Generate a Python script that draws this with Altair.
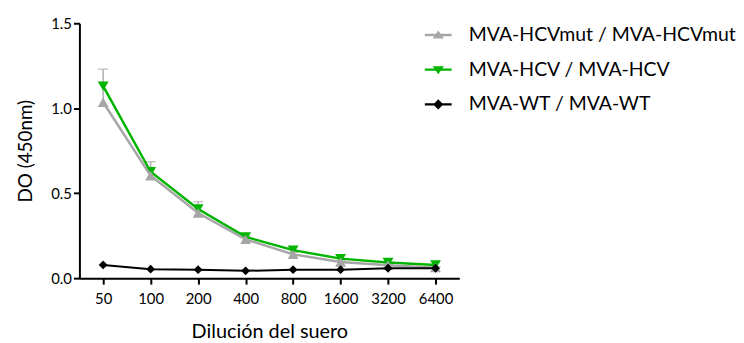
import altair as alt
import pandas as pd

dilutions = ["50", "100", "200", "400", "800", "1600", "3200", "6400"]
series_names = ["MVA-HCVmut / MVA-HCVmut", "MVA-HCV / MVA-HCV", "MVA-WT / MVA-WT"]
hcvmut = [1.035, 0.603, 0.383, 0.228, 0.140, 0.095, 0.076, 0.062]
hcvmut_err = [0.195, 0.082, 0.067, 0.020, 0.012, 0.008, 0.006, 0.005]
hcv = [1.130, 0.626, 0.407, 0.243, 0.165, 0.115, 0.092, 0.078]
wt = [0.078, 0.053, 0.050, 0.043, 0.050, 0.050, 0.058, 0.058]
colors = ["#A6A6A6", "#00B400", "#000000"]
shapes = ["triangle-up", "triangle-down", "diamond"]
legend_shapes = [
    "M-1.8,-0.16H1.8V0.16H-1.8Z M0,-0.6L0.75,0.47H-0.75Z",
    "M-1.8,-0.16H1.8V0.16H-1.8Z M0,0.6L-0.75,-0.47H0.75Z",
    "M-1.8,-0.14H1.8V0.14H-1.8Z M0,-0.68L0.68,0L0,0.68L-0.68,0Z",
]

rows = []
for name, vals in zip(series_names, [hcvmut, hcv, wt]):
    for d, v in zip(dilutions, vals):
        rows.append({"series": name, "dil": d, "val": v})
df = pd.DataFrame(rows)
err_df = pd.DataFrame({"dil": dilutions, "val": hcvmut,
                       "hi": [v + e for v, e in zip(hcvmut, hcvmut_err)]})

FONT = "Lato"
x_enc = alt.X("dil:O", sort=dilutions, scale=alt.Scale(type="point", padding=0.5),
              axis=alt.Axis(title="Dilución del suero", labelAngle=0))
y_scale = alt.Scale(domain=[0, 1.5], nice=False)
y_enc = alt.Y("val:Q", scale=y_scale,
              axis=alt.Axis(title="DO (450nm)", values=[0, 0.5, 1.0, 1.5], format=".1f"))
color_scale = alt.Scale(domain=series_names, range=colors)
color_enc = alt.Color("series:N", scale=color_scale, legend=None)

base = alt.Chart(df)

def series_layers(i, sw, size):
    d = base.transform_filter(alt.datum.series == series_names[i])
    line = d.mark_line(strokeWidth=sw).encode(x=x_enc, y=y_enc, color=color_enc)
    pts = d.mark_point(filled=True, opacity=1, size=size, shape=shapes[i]).encode(
        x=x_enc, y=y_enc, color=color_enc)
    return [line, pts]

err_rule = alt.Chart(err_df).mark_rule(color="#AFAFAF", strokeWidth=1.5).encode(
    x=x_enc, y=alt.Y("val:Q", scale=y_scale), y2="hi:Q")
err_cap = alt.Chart(err_df).mark_tick(color="#AFAFAF", thickness=1.5, size=10, orient="horizontal").encode(
    x=x_enc, y=alt.Y("hi:Q", scale=y_scale))

# legend-only layer (no rows drawn; the legend comes from the explicit scale domains)
legend_layer = base.transform_filter(alt.datum.val < -1).mark_point(
    filled=True, opacity=1, size=225, strokeWidth=0).encode(
    x=x_enc, y=y_enc,
    color=alt.Color("series:N", scale=color_scale,
                    legend=alt.Legend(title=None, orient="none", legendX=352, legendY=2,
                                      symbolSize=225, symbolStrokeWidth=0, labelOffset=21,
                                      rowPadding=14, labelFontSize=19.6, labelFont=FONT,
                                      labelColor="#000000", padding=0, labelLimit=400)),
    shape=alt.Shape("series:N", scale=alt.Scale(domain=series_names, range=legend_shapes)),
)

layers = [legend_layer, err_rule, err_cap] + series_layers(1, 2.5, 120) \
    + series_layers(0, 2.5, 120) + series_layers(2, 2, 80)

chart = alt.layer(*layers).properties(
    width=383, height=257, padding={"left": 9, "top": 7, "right": 0, "bottom": 0}
).configure_view(stroke=None).configure_axis(
    domainColor="#000000", domainWidth=2, tickColor="#000000", tickWidth=2, tickSize=6,
    labelFont=FONT, labelFontSize=15, labelColor="#000000", labelPadding=2,
    titleFont=FONT, titleFontSize=19, titleFontWeight="normal", titleColor="#000000",
    grid=False,
).configure_axisX(labelPadding=8, titlePadding=15, titleFontSize=20).configure_axisY(titlePadding=15)

chart.save("out.html", embed_options={"renderer": "svg", "actions": False})
